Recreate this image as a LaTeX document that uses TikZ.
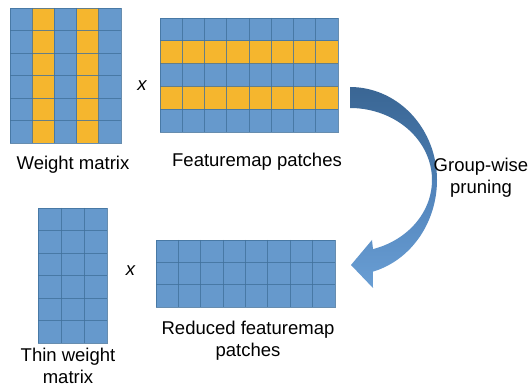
\documentclass[tikz,border=0pt]{standalone}
\usepackage{fontspec}
\setmainfont{Liberation Sans}
\definecolor{cblue}{RGB}{102,153,204}
\definecolor{corange}{RGB}{245,182,46}
\definecolor{cline}{RGB}{65,113,156}
\definecolor{adarktop}{RGB}{58,102,148}
\definecolor{adarkbot}{RGB}{74,124,176}
\definecolor{alighttop}{RGB}{80,130,185}
\definecolor{alightbot}{RGB}{105,158,212}
\newcommand\mygrid[6]{%
  \pgfmathtruncatemacro\mgc{#3-1}%
  \pgfmathtruncatemacro\mgr{#4-1}%
  \foreach \k in {1,...,\mgc} \draw[gridline] ({#1+\k*#5},#2) -- ++(0,{#4*#6});
  \foreach \k in {1,...,\mgr} \draw[gridline] (#1,{#2+\k*#6}) -- ++({#3*#5},0);
  \draw[gridline] (#1,#2) rectangle ++({#3*#5},{#4*#6});
}
\begin{document}
\begin{tikzpicture}[x=1pt,y=-1pt,
  gridline/.style={draw=cline, line width=0.9pt, draw opacity=0.8},
  lbl/.style={font=\fontsize{18.5}{22}\selectfont, align=center, inner sep=0pt},
  times/.style={font=\fontsize{18.5}{22}\selectfont\itshape, inner sep=0pt}]
\useasboundingbox[fill=white] (0,0) rectangle (531,387);

% Weight matrix
\fill[cblue] (10,8) rectangle (121,143);
\fill[corange] ({10+22.2},8) rectangle ({10+2*22.2},143);
\fill[corange] ({10+3*22.2},8) rectangle ({10+4*22.2},143);
\mygrid{10}{8}{5}{6}{22.2}{22.5}

% Featuremap patches
\fill[cblue] (160,18) rectangle (338,132);
\fill[corange] (160,{18+22.8}) rectangle (338,{18+2*22.8});
\fill[corange] (160,{18+3*22.8}) rectangle (338,{18+4*22.8});
\mygrid{160}{18}{8}{5}{22.25}{22.8}

% Thin weight matrix
\fill[cblue] (38,208) rectangle (107,343);
\mygrid{38}{208}{3}{6}{23}{22.5}

% Reduced featuremap patches
\fill[cblue] (156,240) rectangle (335,307);
\mygrid{156}{240}{8}{3}{22.375}{22.333}

% Curved arrow: dark back crescent
\shade[top color=adarktop, bottom color=adarkbot]
  plot[domain=90:0, variable=\t, samples=40] ({350+87*cos(\t)},{180-93*sin(\t)})
  -- plot[domain=0:90, variable=\t, samples=40] ({350+82*cos(\t)},{180-72*sin(\t)})
  -- cycle;
% front band with head
\shade[top color=alighttop, bottom color=alightbot]
  plot[domain=0:-74.7, variable=\t, samples=40] ({350+87*cos(\t)},{180-95*sin(\t)})
  -- (373,288) -- (351,265) -- (372,240) -- (373,249.2)
  -- plot[domain=-73.9:0, variable=\t, samples=40] ({350+82*cos(\t)},{180-72*sin(\t)})
  -- cycle;

% Labels
\node[lbl] (wml) at (73,164.3) {Weight matrix};
\node[lbl] (fpl) at (257,162) {Featuremap patches};
\node[lbl] (gwl) at (481,178) {Group-wise\\pruning};
\node[lbl] (twl) at (68,365.5) {Thin weight\\matrix};
\node[lbl] (rfl) at (248,341) {Reduced featuremap\\patches};
\node[times] (x1) at (142,86) {x};
\node[times] (x2) at (130.5,271) {x};
\end{tikzpicture}
\end{document}
